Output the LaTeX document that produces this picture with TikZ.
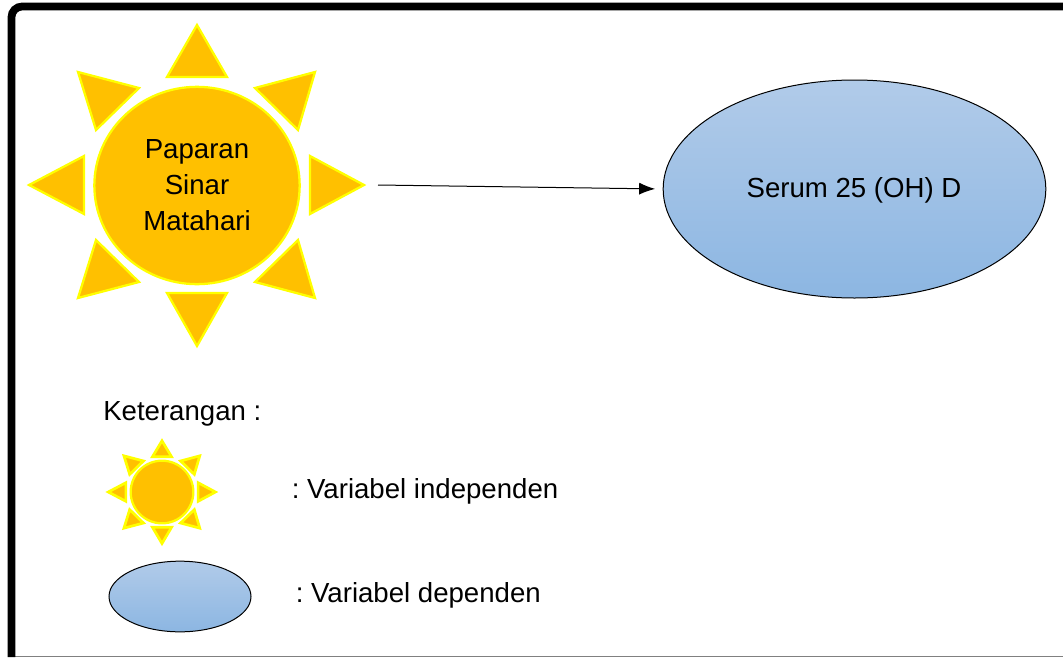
\documentclass[tikz,border=0pt]{standalone}
\usepackage{fontspec}
\setmainfont{Liberation Sans}
\usepackage{tikz}
\usetikzlibrary{arrows.meta}
\usetikzlibrary{positioning}
\usetikzlibrary{shapes.geometric}
\definecolor{sunorange}{HTML}{FFC000}
\definecolor{sunline}{HTML}{FFFF00}
\definecolor{ovaltop}{HTML}{B1CBE9}
\definecolor{ovalbottom}{HTML}{8CB6E2}
\tikzstyle{varrow}= [line width=0.75pt, -{Latex[length=12pt,width=9pt]}]
\tikzstyle{ray}= [draw=sunline, fill=sunorange, line width=1.7pt, line join=miter]

\begin{document}
\frenchspacing
\begin{tikzpicture}[
		x=0.75pt,y=-0.75pt,
		sunbody/.style={
		ellipse,draw=sunline,fill=sunorange,line width=1.7pt,inner sep=0pt,outer sep=0pt,
		},
		oval/.style={
		ellipse,draw=black,line width=0.75pt,top color=ovaltop,bottom color=ovalbottom,
		inner sep=0pt,outer sep=0pt,
		},
		label/.style={
		font=\fontsize{20.7}{27}\selectfont,inner sep=0pt,
		}
	]
  \useasboundingbox (0,0) rectangle (1063,657);

  % frame
  \draw[gray,line width=1pt] (15,656.5) -- (1063,656.5);
  \draw[black,line width=5.8pt,rounded corners=8pt] (11.5,657) -- (11.5,6.5) -- (1063,6.5);

  % big sun
  \begin{scope}[shift={(197,185)}]
    \foreach \ax/\ay/\bx/\by/\cx/\cy in {0/-160/30/-108/-30/-108,167/0/113/29/113/-29,0/161/30/108/-30/108,-168/0/-113/29/-113/-29,118/-113/58/-97/101/-55,-119/-113/-58/-97/-101/-55,-119/113/-58/97/-101/55,118/113/58/97/101/55}
      \draw[ray] (\ax,\ay) -- (\bx,\by) -- (\cx,\cy) -- cycle;
  \end{scope}
  \node[sunbody,minimum width=154pt,minimum height=148pt,label,align=center] (sun) at (197,185.5) {Paparan\\Sinar\\Matahari};

  % big oval
  \node[oval,minimum width=287pt,minimum height=163.5pt,label] (serum) at (854.5,189) {};
  \node[label] (serumtext) at (854,190) {Serum 25 (OH) D};

  \coordinate (start) at (378,185);
  \draw[varrow,shorten >=6pt] (start) -- (serum.west);

  % legend
  \node[label,anchor=west] (ket) at (103,414) {Keterangan :};

  \begin{scope}[shift={(162,492)}]
    \foreach \ax/\ay/\bx/\by/\cx/\cy in {0/-160/30/-110/-30/-110,167/0/113/29/113/-29,0/161/30/110/-30/110,-168/0/-113/29/-113/-29,118/-113/58/-97/101/-55,-119/-113/-58/-97/-101/-55,-119/113/-58/97/-101/55,118/113/58/97/101/55}
      \draw[ray,line width=2pt] (0.32*\ax,0.32*\ay) -- (0.32*\bx,0.32*\by) -- (0.32*\cx,0.32*\cy) -- cycle;
  \end{scope}
  \node[sunbody,minimum size=47pt] (sunsmall) at (162,492) {};
  \node[label,anchor=west] (indep) at (291.5,491) {: Variabel independen};

  \node[oval,minimum width=106.5pt,minimum height=53pt] (ovalsmall) at (180,596.5) {};
  \node[label,anchor=west] (dep) at (295.5,595) {: Variabel dependen};
\end{tikzpicture}
\end{document}
